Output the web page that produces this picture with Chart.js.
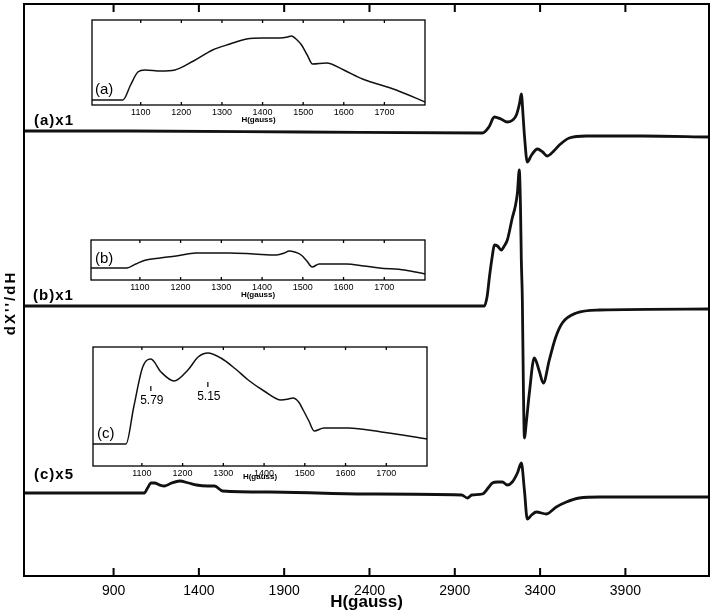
<!DOCTYPE html>
<html>
<head>
<meta charset="utf-8">
<script src="https://cdn.jsdelivr.net/npm/chart.js@4.4.1/dist/chart.umd.min.js"></script>
<style>
  body { margin: 0; background: #fff; }
  #wrap { position: relative; width: 714px; height: 613px; }
  canvas { position: absolute; }
</style>
</head>
<body>
<div id="wrap">
  <canvas id="main" width="714" height="613" style="left:0;top:0"></canvas>
  <canvas id="insetA" width="350" height="109" style="left:82px;top:16px"></canvas>
  <canvas id="insetB" width="350" height="64" style="left:81px;top:236px"></canvas>
  <canvas id="insetC" width="350" height="139" style="left:83px;top:343px"></canvas>
</div>
<script>
// main spectra: field (gauss) and signal relative to each trace's baseline
const mainTicks = [900, 1400, 1900, 2400, 2900, 3400, 3900];
const traceOffsets = [443, 270, 83];

const fieldA = [375, 1000, 2000, 3062, 3100, 3132, 3170, 3208, 3240, 3261, 3280, 3290, 3300, 3308, 3325, 3350, 3384, 3415, 3442, 3480, 3513, 3571, 3671, 4000, 4390];
const sigA   = [2, 2, 1, 0, 6, 16, 14, 11, 13, 18, 30, 39, 18, -2, -29, -22, -16, -19, -23, -18, -12, -5, -3, -3, -4];

const fieldB = [375, 1000, 2000, 3073, 3090, 3103, 3120, 3132, 3150, 3173, 3190, 3208, 3237, 3255, 3267, 3278, 3285, 3290, 3296, 3302, 3308, 3320, 3337, 3366, 3395, 3419, 3454, 3490, 3530, 3612, 3747, 4390];
const sigB   = [0, 0, 0, 0, 10, 29, 50, 61, 60, 56, 60, 66, 88, 100, 113, 136, 100, 46, 6, -80, -132, -115, -87, -52, -65, -77, -54, -32, -17, -7, -4, -3];

const fieldC = [375, 1080, 1099, 1120, 1140, 1170, 1199, 1240, 1287, 1340, 1386, 1450, 1492, 1539, 1814, 2382, 2940, 2974, 3000, 3062, 3100, 3120, 3150, 3179, 3208, 3237, 3267, 3290, 3308, 3325, 3350, 3378, 3437, 3495, 3554, 3630, 3747, 4390];
const sigC   = [0, 0, 5, 10, 10, 8, 7, 10, 12, 10, 8, 7, 7, 2, 1, -1, -2, -5, -2, -1, 6, 10, 11, 11, 8, 11, 20, 30, 3, -26, -22, -19, -21, -14, -9, -5, -4, -4];

// insets: low-field region
const insetTicks = [1100, 1200, 1300, 1400, 1500, 1600, 1700];

const insetFieldA = [980, 1056, 1075, 1093, 1110, 1150, 1184, 1230, 1277, 1320, 1361, 1400, 1442, 1462, 1471, 1485, 1496, 1510, 1523, 1557, 1600, 1646, 1729, 1800];
const insetValA   = [5, 5, 20, 33, 35, 34, 35, 44, 55, 61, 66, 67, 67, 68, 69, 65, 60, 50, 41, 42, 35, 26, 15, 3];

const insetFieldB = [980, 1068, 1090, 1115, 1150, 1189, 1238, 1280, 1319, 1380, 1435, 1455, 1466, 1480, 1496, 1510, 1523, 1540, 1607, 1650, 1688, 1750, 1800];
const insetValB   = [12, 12, 16, 20, 22, 24, 27, 27, 27, 26, 25, 27, 29, 28, 25, 19, 13, 16, 16, 14, 12, 10, 6];

const insetFieldC = [980, 1061, 1080, 1102, 1122, 1147, 1179, 1213, 1238, 1262, 1294, 1330, 1361, 1400, 1442, 1460, 1471, 1485, 1496, 1510, 1523, 1547, 1607, 1688, 1800];
const insetValC   = [22, 22, 59, 99, 107, 94, 85, 96, 109, 113, 108, 97, 86, 75, 66, 67, 68, 64, 56, 45, 35, 38, 38, 34, 27];

const gMarkFields = [1122, 1262];
const gMarkValues = [80, 84];
const gMarkLabels = ["5.79", "5.15"];

function pts(xs, ys, off) {
  return xs.map((x, i) => ({ x: x, y: ys[i] + off }));
}

// box, inward ticks, free text and g-value markers
const framePlugin = {
  id: 'frame',
  afterDraw(chart, args, opts) {
    const ctx = chart.ctx, a = chart.chartArea, sx = chart.scales.x, sy = chart.scales.y;
    ctx.save();
    ctx.strokeStyle = '#000';
    ctx.lineWidth = opts.lineWidth;
    ctx.strokeRect(a.left, a.top, a.right - a.left, a.bottom - a.top);
    sx.ticks.forEach(t => {
      const px = sx.getPixelForValue(t.value);
      ctx.beginPath();
      ctx.moveTo(px, a.top); ctx.lineTo(px, a.top + opts.tickLen);
      ctx.moveTo(px, a.bottom); ctx.lineTo(px, a.bottom - opts.tickLen);
      ctx.stroke();
    });
    ctx.fillStyle = '#000';
    ctx.textBaseline = 'middle';
    (opts.labels || []).forEach(l => {
      ctx.save();
      ctx.font = l.font;
      ctx.letterSpacing = l.spacing || '0px';
      ctx.textAlign = l.align || 'left';
      ctx.translate(l.x, l.y);
      if (l.rotate) ctx.rotate(l.rotate);
      ctx.fillText(l.text, 0, 0);
      ctx.restore();
    });
    if (opts.markers) {
      ctx.lineWidth = 1.2;
      ctx.font = '12px "Liberation Sans"';
      ctx.textAlign = 'center';
      opts.markers.fields.forEach((f, i) => {
        const px = sx.getPixelForValue(f), py = sy.getPixelForValue(opts.markers.values[i]);
        ctx.beginPath();
        ctx.moveTo(px, py); ctx.lineTo(px, py + 5);
        ctx.stroke();
        ctx.fillText(opts.markers.labels[i], px + 1, py + 15);
      });
    }
    ctx.restore();
  }
};

new Chart(document.getElementById('main'), {
  type: 'line',
  data: {
    datasets: [
      { data: pts(fieldA, sigA, traceOffsets[0]) },
      { data: pts(fieldB, sigB, traceOffsets[1]) },
      { data: pts(fieldC, sigC, traceOffsets[2]) },
    ],
  },
  options: {
    responsive: false,
    animation: false,
    layout: { padding: { top: 4, right: 5, left: 0, bottom: 0 } },
    elements: {
      point: { radius: 0 },
      line: { borderColor: '#111', borderWidth: 2.8, cubicInterpolationMode: 'monotone', borderJoinStyle: 'round' },
    },
    plugins: {
      legend: { display: false },
      tooltip: { enabled: false },
      frame: {
        lineWidth: 2,
        tickLen: 8,
        labels: [
          { text: '(a)x1', x: 34, y: 121, font: 'bold 15px "Liberation Sans"', spacing: '1px' },
          { text: '(b)x1', x: 33, y: 296, font: 'bold 15px "Liberation Sans"', spacing: '1px' },
          { text: '(c)x5', x: 34, y: 475, font: 'bold 15px "Liberation Sans"', spacing: '1px' },
          { text: "dX''/dH", x: 11, y: 303, font: 'bold 15px "Liberation Sans"', spacing: '2px', align: 'center', rotate: -Math.PI / 2 },
        ],
      },
    },
    scales: {
      x: {
        type: 'linear',
        min: 375,
        max: 4390,
        afterBuildTicks: s => { s.ticks = mainTicks.map(v => ({ value: v })); },
        afterFit: s => { s.height = 37; },
        grid: { display: false, drawTicks: false },
        border: { display: false },
        ticks: { autoSkip: false, maxRotation: 0, padding: 7, color: '#000', font: { family: 'Liberation Sans', size: 14 }, callback: v => String(v) },
        title: { display: true, text: 'H(gauss)', color: '#000', padding: 0, font: { family: 'Liberation Sans', size: 17, weight: 'bold' } },
      },
      y: {
        type: 'linear',
        min: 0,
        max: 572,
        afterFit: s => { s.width = 24; },
        grid: { display: false, drawTicks: false },
        border: { display: false },
        ticks: { display: false },
      },
    },
  },
  plugins: [framePlugin],
});

function makeInset(id, fields, vals, ymax, geom, label, markers) {
  new Chart(document.getElementById(id), {
    type: 'line',
    data: { datasets: [{ data: pts(fields, vals, 0) }] },
    options: {
      responsive: false,
      animation: false,
      layout: { padding: { top: 4, right: geom.right, left: 0, bottom: 0 } },
      elements: {
        point: { radius: 0 },
        line: { borderColor: '#111', borderWidth: 1.5, cubicInterpolationMode: 'monotone' },
      },
      plugins: {
        legend: { display: false },
        tooltip: { enabled: false },
        frame: { lineWidth: 1.3, tickLen: 3, labels: [label], markers: markers },
      },
      scales: {
        x: {
          type: 'linear',
          min: 980,
          max: 1800,
          afterBuildTicks: s => { s.ticks = insetTicks.map(v => ({ value: v })); },
          afterFit: s => { s.height = geom.xh; },
          grid: { display: false, drawTicks: false },
          border: { display: false },
          ticks: { autoSkip: false, maxRotation: 0, padding: 2, color: '#000', font: { family: 'Liberation Sans', size: 9 }, callback: v => String(v) },
          title: { display: true, text: 'H(gauss)', color: '#000', padding: 0, font: { family: 'Liberation Sans', size: 8, weight: 'bold' } },
        },
        y: {
          type: 'linear',
          min: 0,
          max: ymax,
          afterFit: s => { s.width = 10; },
          grid: { display: false, drawTicks: false },
          border: { display: false },
          ticks: { display: false },
        },
      },
    },
    plugins: [framePlugin],
  });
}

const insetFont = '15px "Liberation Sans"';
makeInset('insetA', insetFieldA, insetValA, 85, { right: 7, xh: 20 }, { text: '(a)', x: 13, y: 74, font: insetFont });
makeInset('insetB', insetFieldB, insetValB, 40, { right: 6, xh: 20 }, { text: '(b)', x: 14, y: 23, font: insetFont });
makeInset('insetC', insetFieldC, insetValC, 119, { right: 6, xh: 16 }, { text: '(c)', x: 14, y: 91, font: insetFont },
  { fields: gMarkFields, values: gMarkValues, labels: gMarkLabels });
</script>
</body>
</html>
